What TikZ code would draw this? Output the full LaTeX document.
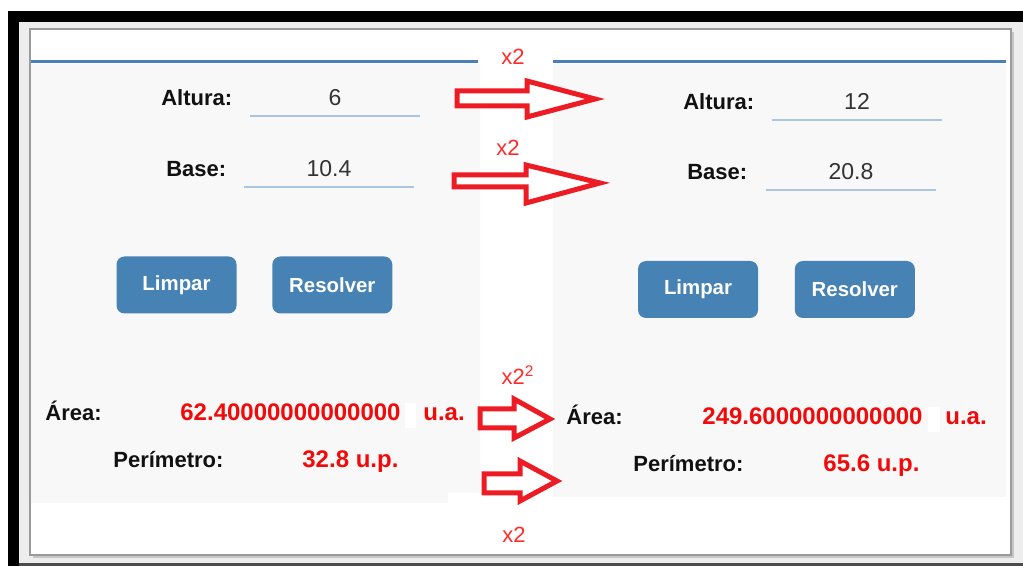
\documentclass[tikz,border=0pt]{standalone}
\usepackage{fontspec}
\setmainfont{Liberation Sans}
\usetikzlibrary{positioning}

\definecolor{framegray}{HTML}{EDEDED}
\definecolor{panelborder}{HTML}{9A9A9A}
\definecolor{contentgray}{HTML}{F8F8F8}
\definecolor{lineblue}{HTML}{4A80B4}
\definecolor{fieldblue}{HTML}{A9C5E0}
\definecolor{btnblue}{HTML}{4682B4}
\definecolor{labelblack}{HTML}{111111}
\definecolor{valgray}{HTML}{333333}
\definecolor{resred}{HTML}{F20A0A}
\definecolor{arrowred}{HTML}{ED1C24}
\definecolor{timesred}{HTML}{FF2A2A}

\begin{document}
\begin{tikzpicture}[
        x=0.5pt, y=-0.5pt,
        node distance=8.5pt,
        lbl/.style={font=\fontsize{11}{13}\selectfont\bfseries, text=labelblack, inner sep=0pt},
        field/.style={font=\fontsize{11.5}{14}\selectfont, text=valgray, inner sep=0pt, minimum width=85pt, text depth=5pt, anchor=base},
        fieldline/.style={draw=fieldblue, line width=1pt},
        btn/.style={rectangle, rounded corners=4pt, fill=btnblue, text=white, font=\fontsize{10.2}{12}\selectfont\bfseries, minimum width=60pt, minimum height=28.5pt, inner sep=0pt},
        res/.style={font=\fontsize{12}{14}\selectfont\bfseries, text=resred, inner sep=0pt, anchor=base west},
        times/.style={font=\fontsize{11}{13}\selectfont, text=timesred, inner sep=0pt},
        bigarrow/.style={draw=arrowred, line width=2.5pt, fill=white, line join=miter}
    ]
        \useasboundingbox (0,0) rectangle (1023,566);

        % Screen frame
        \fill[white] (0,0) rectangle (1023,566);
        \fill[framegray] (8,11) rectangle (1023,566);
        \fill[black] (8,11) rectangle (1023,22);
        \fill[black] (8,11) rectangle (19,566);
        \fill[gray!60!black] (19,563) rectangle (1023,566);

        % Window
        \fill[gray!45] (33,32) rectangle (1014,558);
        \filldraw[fill=white, draw=panelborder, line width=1pt] (30,29) rectangle (1011,555);
        \fill[contentgray] (31,64) -- (480,64) -- (480,493) -- (448,493) -- (448,503) -- (31,503) -- cycle;
        \fill[contentgray] (553,64) rectangle (1006,497);
        \draw[lineblue, line width=1.5pt] (31,62) -- (478,62);
        \draw[lineblue, line width=1.5pt] (553,62) -- (1006,62);

        % Left side: inputs
        \node[field] (altL) at (335,106) {6};
        \node[lbl, base left=of altL] (altLlbl) {Altura:};
        \draw[fieldline] (altL.south west) -- (altL.south east);
        \node[field] (baseL) at (329,177) {10.4};
        \node[lbl, base left=of baseL] (baseLlbl) {Base:};
        \draw[fieldline] (baseL.south west) -- (baseL.south east);

        % Left side: buttons
        \node[btn] (limparL) at (176.5,285) {Limpar};
        \node[btn, right=17.5pt of limparL] (resolverL) {Resolver};

        % Left side: results
        \node[lbl, anchor=base west] (areaLlbl) at (45,421) {Área:};
        \node[res] (areaL) at (180,421) {62.40000000000000};
        \fill[white] (405,403) rectangle (416,428);
        \node[res] (areaLunit) at (423,421) {u.a.};
        \node[lbl, anchor=base west] (perLlbl) at (113,468) {Perímetro:};
        \node[res] (perL) at (302,468) {32.8 u.p.};

        % Right side: inputs
        \node[field] (altR) at (857,110) {12};
        \node[lbl, base left=of altR] (altRlbl) {Altura:};
        \draw[fieldline] (altR.south west) -- (altR.south east);
        \node[field] (baseR) at (851,180) {20.8};
        \node[lbl, base left=9pt of baseR] (baseRlbl) {Base:};
        \draw[fieldline] (baseR.south west) -- (baseR.south east);

        % Right side: buttons
        \node[btn] (limparR) at (698,289.5) {Limpar};
        \node[btn, right=18pt of limparR] (resolverR) {Resolver};

        % Right side: results
        \node[lbl, anchor=base west] (areaRlbl) at (566,425) {Área:};
        \node[res] (areaR) at (702,425) {249.6000000000000};
        \fill[white] (928,407) rectangle (940,432);
        \node[res] (areaRunit) at (945,425) {u.a.};
        \node[lbl, anchor=base west] (perRlbl) at (633,472) {Perímetro:};
        \node[res] (perR) at (823,472) {65.6 u.p.};

        % Doubling arrows
        \draw[bigarrow] (457,91) -- (527,91) -- (527,81) -- (595,99) -- (527,117) -- (527,106) -- (457,106) -- cycle;
        \draw[bigarrow] (454,175) -- (526,175) -- (526,165) -- (600,183) -- (526,203) -- (526,187) -- (454,187) -- cycle;
        \draw[bigarrow] (480,409) -- (514,409) -- (514,399) -- (550,419) -- (514,438) -- (514,428) -- (480,428) -- cycle;
        \draw[bigarrow] (484,474) -- (520,474) -- (520,461) -- (557,481) -- (520,501) -- (520,493) -- (484,493) -- cycle;

        % Factors
        \node[times] (timesAlt) at (513,57) {x2};
        \node[times] (timesBase) at (508,148) {x2};
        \node[times] (timesArea) at (518,375) {x2\textsuperscript{2}};
        \node[times] (timesPer) at (514,535) {x2};
    \end{tikzpicture}
\end{document}
